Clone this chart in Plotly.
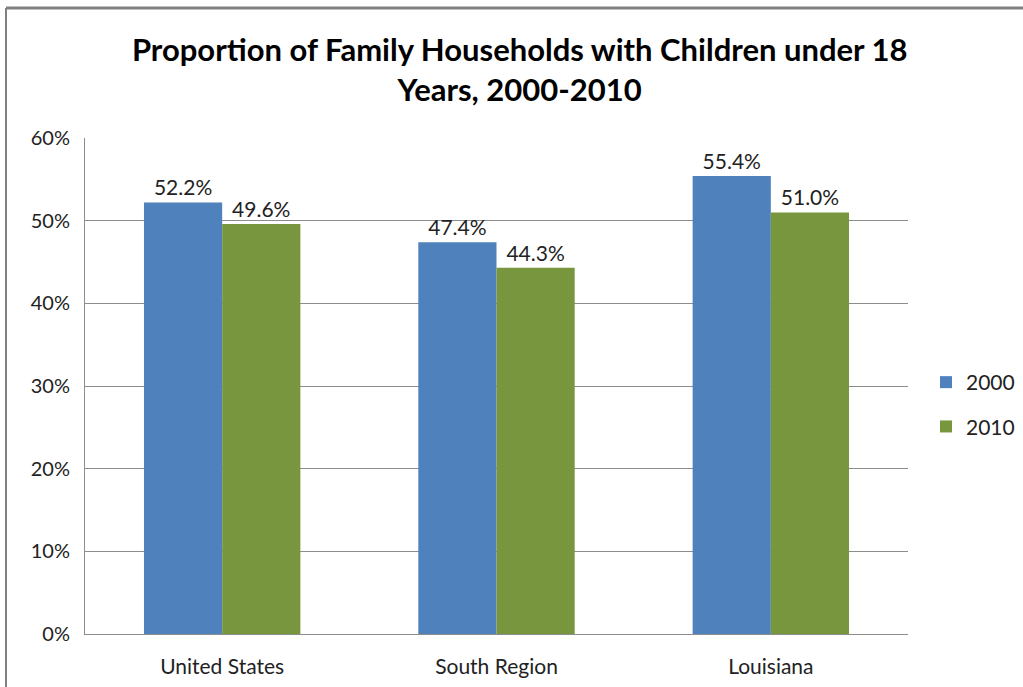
import plotly.graph_objects as go

# Share of family households with children under 18
categories = ["United States", "South Region", "Louisiana"]
values_2000 = [52.2, 47.4, 55.4]
values_2010 = [49.6, 44.3, 51.0]
tick_vals = [0, 10, 20, 30, 40, 50, 60]
tick_text = ["0%", "10%", "20%", "30%", "40%", "50%", "60%"]

FONT = "Lato, Open Sans, sans-serif"
W, H = 1023, 687
L, R, T, B = 85, 115, 138, 53

fig = go.Figure()
fig.add_bar(
    name="2000", x=categories, y=values_2000, legendgroup="y2000",
    marker=dict(color="#4F81BD", line=dict(width=0)),
    text=[f"{v:.1f}%" for v in values_2000], textposition="outside",
    textfont=dict(size=21, color="#222222", family=FONT), cliponaxis=False,
)
fig.add_bar(
    name="2010", x=categories, y=values_2010, legendgroup="y2010",
    marker=dict(color="#77963D", line=dict(width=0)),
    text=[f"{v:.1f}%" for v in values_2010], textposition="outside",
    textfont=dict(size=21, color="#222222", family=FONT), cliponaxis=False,
)

# outer frame lines (left and top edges of the chart area)
pw, ph = W - L - R, H - T - B
def px_x(p):
    return (p - L) / pw
def px_y(p):
    return (H - B - p) / ph

fig.add_shape(type="line", xref="paper", yref="paper",
              x0=px_x(6), x1=px_x(1030), y0=px_y(8), y1=px_y(8),
              line=dict(color="#808080", width=3))
fig.add_shape(type="line", xref="paper", yref="paper",
              x0=px_x(6), x1=px_x(6), y0=px_y(8), y1=px_y(700),
              line=dict(color="#808080", width=2))

fig.update_layout(
    width=W, height=H,
    margin=dict(l=L, r=R, t=T, b=B, autoexpand=False),
    paper_bgcolor="white", plot_bgcolor="white",
    barmode="group", bargap=0.43, bargroupgap=0,
    title=dict(
        text="Proportion of Family Households with Children under 18<br>Years, 2000-2010",
        x=0.508, xanchor="center", y=0.911, yanchor="middle",
        font=dict(family=FONT, size=31, color="black", weight="bold"),
    ),
    legend=dict(
        x=px_x(926), xanchor="left", y=px_y(362), yanchor="top",
        font=dict(family=FONT, size=21, color="#222222"),
        itemwidth=30, tracegroupgap=14, bgcolor="rgba(0,0,0,0)",
    ),
    yaxis=dict(
        range=[0, 60], tickvals=tick_vals, ticktext=tick_text,
        showgrid=True, gridcolor="#8c8c8c", gridwidth=1,
        showline=True, linecolor="#8c8c8c", linewidth=1,
        ticks="outside", ticklen=10, tickcolor="white",
        tickfont=dict(family=FONT, size=20, color="#222222"),
        zeroline=False, fixedrange=True,
    ),
    xaxis=dict(
        showline=True, linecolor="#8c8c8c", linewidth=1,
        ticks="outside", ticklen=14, tickcolor="white",
        tickfont=dict(family=FONT, size=21, color="#222222"),
        fixedrange=True,
    ),
)

fig.write_html("out.html")
